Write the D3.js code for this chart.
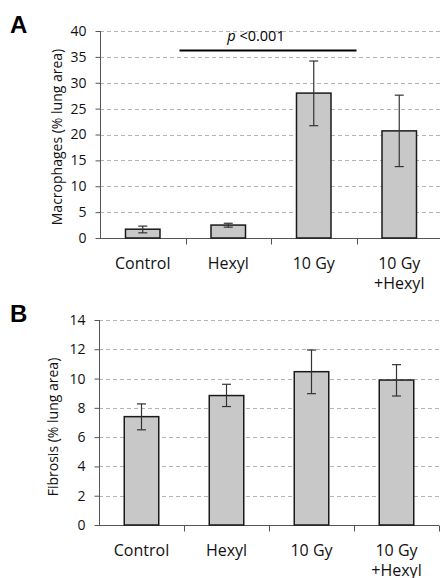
<!DOCTYPE html>
<html><head><meta charset="utf-8">
<script src="https://cdn.jsdelivr.net/npm/d3@7"></script>
<style>
body{margin:0;background:#fff;}
svg{display:block;font-family:"Open Sans",sans-serif;}
</style></head>
<body>
<svg id="c" width="440" height="578"></svg>
<script>
const categories = [["Control"],["Hexyl"],["10 Gy"],["10 Gy","+Hexyl"]];
const macrophages = [1.7, 2.5, 28.0, 20.7];
const macroErrLow = [1.0, 2.1, 21.7, 13.8];
const macroErrHigh = [2.3, 2.85, 34.2, 27.6];
const macroTicks = [0,5,10,15,20,25,30,35,40];
const fibrosis = [7.4, 8.84, 10.47, 9.9];
const fibErrLow = [6.5, 8.09, 8.97, 8.81];
const fibErrHigh = [8.27, 9.61, 11.95, 10.95];
const fibTicks = [0,2,4,6,8,10,12,14];

const svg = d3.select("#c");

function panel(cfg){
  const g = svg.append("g");
  const x = d3.scaleBand().domain(d3.range(categories.length)).range([cfg.x0, cfg.x1]).paddingInner(0).paddingOuter(0);
  const y = d3.scaleLinear().domain([0, cfg.max]).range([cfg.y0, cfg.y1]);
  // gridlines
  g.selectAll(".grid").data(cfg.ticks.filter(t=>t>0)).enter().append("line")
    .attr("x1", cfg.x0).attr("x2", 440)
    .attr("y1", d=>Math.round(y(d))+0.5).attr("y2", d=>Math.round(y(d))+0.5)
    .attr("stroke","#b4b4b4").attr("stroke-width",1).attr("stroke-dasharray","4,3");
  // y axis
  const ya = d3.axisLeft(y).tickValues(cfg.ticks).tickSize(5).tickPadding(9).tickFormat(d3.format("d"));
  const yg = g.append("g").attr("transform",`translate(${cfg.x0+0.5},0)`).call(ya);
  yg.select(".domain").attr("stroke","#555").attr("d",`M-0,${cfg.y1}V${cfg.y0}`);
  yg.selectAll(".tick line").attr("stroke","#555");
  yg.selectAll(".tick text").attr("font-size",14).attr("fill","#111").attr("font-family","Open Sans");
  // x axis
  const xa = d3.axisBottom(x).tickSize(0).tickFormat("");
  const xg = g.append("g").attr("transform",`translate(0,${cfg.y0+0.5})`).call(xa);
  xg.select(".domain").attr("stroke","#555").attr("d",`M${cfg.x0},0H${cfg.x1}`);
  xg.selectAll(".tick").remove();
  xg.selectAll(".sep").data(d3.range(1, categories.length+1)).enter().append("line")
    .attr("x1", i=>Math.round(cfg.x0 + i*x.bandwidth())+0.5).attr("x2", i=>Math.round(cfg.x0 + i*x.bandwidth())+0.5)
    .attr("y1",0).attr("y2",6).attr("stroke","#555");
  // bars
  const bw = 34.5;
  g.selectAll(".bar").data(cfg.values).enter().append("rect")
    .attr("x",(d,i)=>x(i)+x.bandwidth()/2-bw/2)
    .attr("y",d=>y(d)).attr("width",bw).attr("height",d=>cfg.y0-y(d))
    .attr("fill","#c8c8c8").attr("stroke","#1a1a1a").attr("stroke-width",1.5);
  // error bars
  cfg.values.forEach((v,i)=>{
    const cx = x(i)+x.bandwidth()/2;
    const lo=y(cfg.lo[i]), hi=y(cfg.hi[i]);
    g.append("line").attr("x1",cx).attr("x2",cx).attr("y1",lo).attr("y2",hi).attr("stroke","#333").attr("stroke-width",1.2);
    [lo,hi].forEach(yy=>g.append("line").attr("x1",cx-4.5).attr("x2",cx+4.5).attr("y1",yy).attr("y2",yy).attr("stroke","#333").attr("stroke-width",1.2));
  });
  // category labels
  categories.forEach((lines,i)=>{
    const t = g.append("text").attr("x",x(i)+x.bandwidth()/2).attr("y",cfg.y0+31)
      .attr("text-anchor","middle").attr("font-size",16).attr("fill","#111");
    lines.forEach((l,k)=>t.append("tspan").attr("x",x(i)+x.bandwidth()/2).attr("dy",k?20:0).text(l));
  });
  // y label
  g.append("text").attr("transform",`translate(${cfg.labX},${cfg.labY}) rotate(-90)`)
    .attr("text-anchor","middle").attr("font-size",14).attr("fill","#111").text(cfg.ylabel);
  // panel letter
  g.append("text").attr("x",10).attr("y",cfg.letterY).attr("font-size",24).attr("font-weight","bold")
    .attr("font-family","Liberation Sans, Arial, sans-serif").attr("fill","#000").text(cfg.letter);
  return {x,y,g};
}

const A = panel({x0:100,x1:442,y0:238,y1:31,max:40,ticks:macroTicks,values:macrophages,lo:macroErrLow,hi:macroErrHigh,
  ylabel:"Macrophages (% lung area)",labX:62,labY:137,letter:"A",letterY:33});
// significance line
A.g.append("line").attr("x1",A.x(1)-6).attr("x2",A.x(3)).attr("y1",50.5).attr("y2",50.5).attr("stroke","#000").attr("stroke-width",2);
const pt = A.g.append("text").attr("x",256).attr("y",41).attr("text-anchor","middle").attr("font-size",14.5).attr("fill","#000");
pt.append("tspan").attr("font-style","italic").text("p");
pt.append("tspan").text(" <0.001");

panel({x0:99,x1:439,y0:525,y1:320,max:14,ticks:fibTicks,values:fibrosis,lo:fibErrLow,hi:fibErrHigh,
  ylabel:"Fibrosis (% lung area)",labX:58,labY:427,letter:"B",letterY:322});
</script>
</body></html>
